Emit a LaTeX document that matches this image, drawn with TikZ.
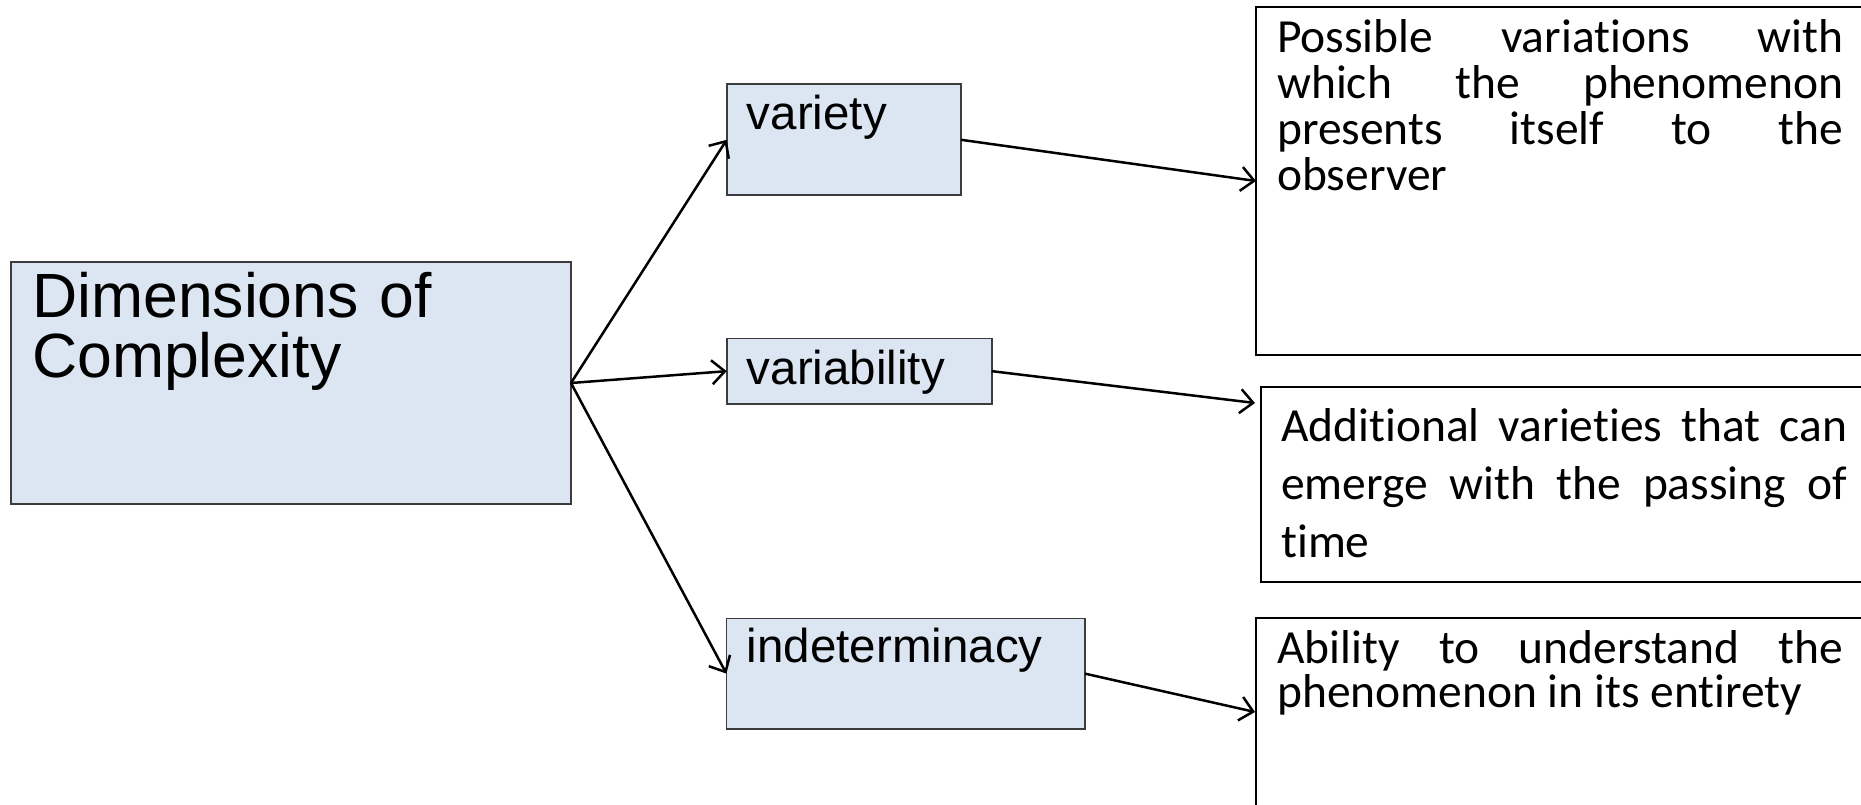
\documentclass[tikz,border=0pt]{standalone}
\usepackage{fontspec}
\setmainfont{Liberation Sans}
\newfontfamily\descfont[Ligatures=NoCommon]{Carlito}
\usetikzlibrary{arrows.meta,calc}
\definecolor{boxblue}{RGB}{220,230,242}
\definecolor{boxedge}{RGB}{60,60,60}
\tikzset{
  bluebox/.style={draw=boxedge, line width=1.6pt, fill=boxblue, inner sep=0pt, outer sep=0pt, anchor=north west},
  descbox/.style={draw=black, line width=1.6pt, fill=white, inner sep=0pt, outer sep=0pt, anchor=north west},
  lbl/.style={inner sep=0pt, anchor=base west, align=left, text width=520pt, font=\fontsize{47.5}{57}\selectfont},
  desc/.style={inner sep=0pt, anchor=base west, align=justify, text width=566pt},
  conn/.style={line width=2.5pt, -{Straight Barb[length=13pt,width=24pt,line width=2.5pt]}}
}
\begin{document}
\begin{tikzpicture}[x=1pt,y=-1pt]
\useasboundingbox (0,0) rectangle (1861,805);
\fill[white] (0,0) rectangle (1861,805);

% left-hand boxes
\node[bluebox, minimum width=560.3pt, minimum height=242pt] (dim) at (10.7,262) {};
\node[bluebox, minimum width=234.3pt, minimum height=111pt] (var) at (726.7,84.3) {};
\node[bluebox, minimum width=265pt, minimum height=65.7pt] (vab) at (726.7,338.3) {};
\node[bluebox, minimum width=358.4pt, minimum height=110.4pt] (ind) at (726.4,618.4) {};

% description boxes (running off the right and bottom edges)
\node[descbox, minimum width=620pt, minimum height=348pt] (d1) at (1256,7) {};
\node[descbox, minimum width=620pt, minimum height=195pt] (d2) at (1261,387) {};
\node[descbox, minimum width=620pt, minimum height=190pt] (d3) at (1256,618) {};

% labels
\node[lbl, font=\fontsize{62.5}{60}\selectfont] (tdim) at (32,317) {Dimensions of\\Complexity};
\node[lbl] (tvar) at (746.7,130) {variety};
\node[lbl] (tvab) at (746.7,384) {variability};
\node[lbl] (tind) at (746.7,662) {indeterminacy};

\node[desc, font=\descfont\fontsize{47.5}{45.7}\selectfont] (td1) at (1277,53)
  {Possible variations with\linebreak which the phenomenon\linebreak presents itself to the\linebreak observer};
\node[desc, font=\descfont\fontsize{47.5}{58}\selectfont] (td2) at (1281,441)
  {Additional varieties that can\linebreak emerge with the passing of\linebreak time};
\node[desc, font=\descfont\fontsize{47.5}{44}\selectfont] (td3) at (1277,663)
  {Ability to understand the\linebreak phenomenon in its entirety};

% connectors
\coordinate (d2in) at ($(d2.north west)+(-6,16)$);
\draw[conn] (dim.east) -- (var.west);
\draw[conn] (dim.east) -- (vab.west);
\draw[conn] (dim.east) -- (ind.west);
\draw[conn] (var.east) -- (d1.west);
\draw[conn] (vab.east) -- (d2in);
\draw[conn] (ind.east) -- ($(d3.north west)+(-1,94)$);
\end{tikzpicture}
\end{document}
